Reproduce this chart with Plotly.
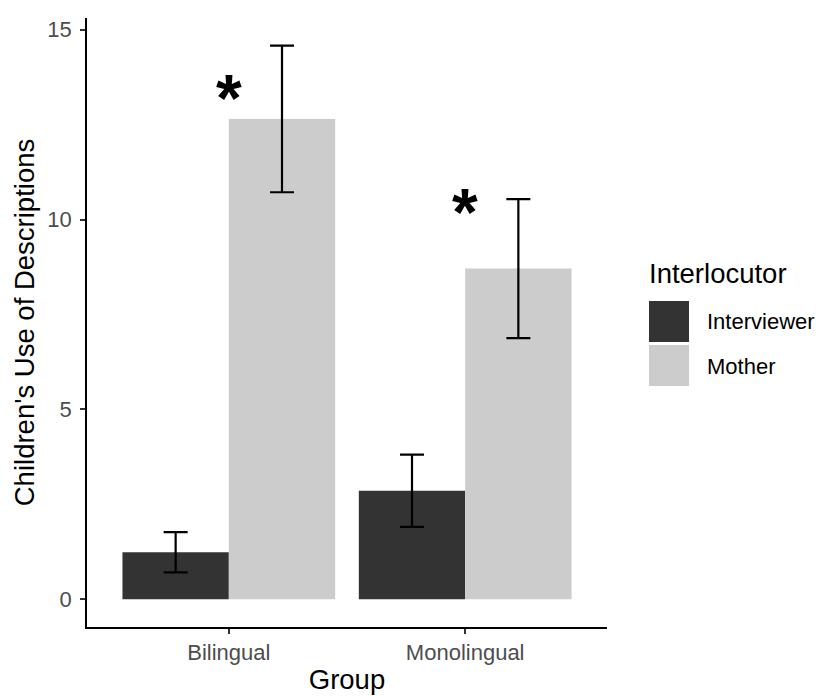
import plotly.graph_objects as go

# ---- data ----
groups = ["Bilingual", "Monolingual"]
interlocutors = ["Interviewer", "Mother"]
interviewer_mean = [1.24, 2.86]
interviewer_se = [0.53, 0.95]
mother_mean = [12.65, 8.71]
mother_se = [1.93, 1.83]
star_y = [13.42, 10.41]
y_ticks = [0, 5, 10, 15]

colors = {"Interviewer": "#333333", "Mother": "#CCCCCC"}
FONT = "Liberation Sans, Arial, Helvetica, sans-serif"

W, H = 820, 696
ML, MR, MT, MB = 87, 213, 18, 69
PW, PH = W - ML - MR, H - MT - MB

def px_x(px):
    return (px - ML) / PW

def px_y(py):
    return (H - MB - py) / PH

fig = go.Figure()
for name, means, ses in [("Interviewer", interviewer_mean, interviewer_se),
                         ("Mother", mother_mean, mother_se)]:
    fig.add_trace(go.Bar(
        x=groups, y=means, name=name,
        marker=dict(color=colors[name], line=dict(width=0)),
        error_y=dict(type="data", array=ses, visible=True,
                     color="black", thickness=2.2, width=12),
        showlegend=False,
    ))

top = max(m + s for m, s in zip(mother_mean + interviewer_mean, mother_se + interviewer_se))
pad = 0.05 * top
y_range = [-pad, top + pad]

for g, sy in zip(groups, star_y):
    fig.add_annotation(x=g, y=sy, xref="x", yref="y", text="<b>*</b>",
                       showarrow=False, yanchor="middle", xanchor="center",
                       font=dict(family=FONT, size=66, color="black"), yshift=-8)

# manual legend
fig.add_annotation(xref="paper", yref="paper", x=px_x(647), y=px_y(273),
                   text="Interlocutor", showarrow=False, xanchor="left", yanchor="middle",
                   font=dict(family=FONT, size=27.5, color="black"))
key_tops = [301, 345]
for name, kt in zip(interlocutors, key_tops):
    fig.add_shape(type="rect", xref="paper", yref="paper",
                  x0=px_x(649), x1=px_x(689), y0=px_y(kt + 41), y1=px_y(kt),
                  fillcolor=colors[name], line=dict(width=0))
    fig.add_annotation(xref="paper", yref="paper", x=px_x(705), y=px_y(kt + 21),
                       text=name, showarrow=False, xanchor="left", yanchor="middle",
                       font=dict(family=FONT, size=22, color="black"))

fig.update_layout(
    width=W, height=H,
    margin=dict(l=ML, r=MR, t=MT, b=MB, pad=0, autoexpand=False),
    paper_bgcolor="white", plot_bgcolor="white",
    barmode="group", bargap=0.1, bargroupgap=0,
    font=dict(family=FONT),
    showlegend=False,
)
fig.update_xaxes(
    range=[-0.6, 1.6], showline=True, linecolor="black", linewidth=1.5,
    ticks="outside", ticklen=5, tickwidth=1.5, tickcolor="#333333",
    tickfont=dict(family=FONT, size=22, color="#4D4D4D"),
    showgrid=False, zeroline=False, automargin=False,
    title=dict(text="Group", font=dict(family=FONT, size=27.5, color="black"), standoff=6),
)
fig.update_yaxes(
    range=y_range, tickvals=y_ticks, showline=True, linecolor="black", linewidth=1.5,
    ticks="outside", ticklen=5, tickwidth=1.5, tickcolor="#333333",
    tickfont=dict(family=FONT, size=22, color="#4D4D4D"),
    showgrid=False, zeroline=False, ticklabelstandoff=4, automargin=False,
    title=dict(text="Children's Use of Descriptions", font=dict(family=FONT, size=27.5, color="black"), standoff=5),
)

fig.write_html("out.html")
